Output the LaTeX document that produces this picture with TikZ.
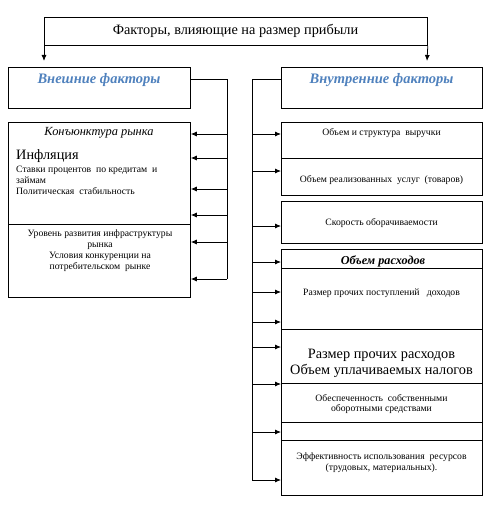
\documentclass[tikz,border=0pt]{standalone}
\usepackage{fontspec}
\setmainfont{Liberation Serif}
\usetikzlibrary{arrows.meta,positioning}
\definecolor{headblue}{RGB}{79,129,189}
\tikzset{
  box/.style={draw, line width=0.8pt, inner sep=0pt, anchor=north west},
  txt/.style={inner sep=0pt, align=center, font=\fontsize{9.7}{10.8}\selectfont},
  big/.style={font=\fontsize{14.3}{15.5}\selectfont},
  head/.style={inner sep=0pt, font=\fontsize{14.5}{16}\selectfont\bfseries\itshape, text=headblue},
  feed/.style={-{Latex[length=6pt,width=5pt]}, line width=0.8pt},
  bus/.style={line width=0.8pt}
}
\begin{document}
\begin{tikzpicture}[x=1pt,y=-1pt]
	\useasboundingbox (0,0) rectangle (496,508);
	% Boxes (top left corner, size)
	\node (top)   [box, minimum width=383pt, minimum height=28pt] at (44,17) {};
	\node (ext)   [box, minimum width=182pt, minimum height=41pt] at (8,67)  {};
	\node (int)   [box, minimum width=201pt, minimum height=41pt] at (281,67) {};
	\node (konj)  [box, minimum width=182pt, minimum height=102pt] at (8,122) {};
	\node (infra) [box, minimum width=182pt, minimum height=73pt] at (8,224) {};
	\node (rev)   [box, minimum width=201pt, minimum height=36pt] at (281,122) {};
	\node (sold)  [box, minimum width=201pt, minimum height=37pt] at (281,158) {};
	\node (speed) [box, minimum width=201pt, minimum height=42pt] at (281,201) {};
	\node (cost)  [box, minimum width=201pt, minimum height=19pt] at (281,249) {};
	\node (inc)   [box, minimum width=201pt, minimum height=61pt] at (281,268) {};
	\node (tax)   [box, minimum width=201pt, minimum height=54pt] at (281,329) {};
	\node (own)   [box, minimum width=201pt, minimum height=39pt] at (281,383) {};
	\node (blank) [box, minimum width=201pt, minimum height=18pt] at (281,422) {};
	\node (eff)   [box, minimum width=201pt, minimum height=55pt] at (281,440) {};

	% Texts
	\node (topT)  [txt, big] at (235.5,31) {Факторы, влияющие на размер прибыли};
	\node (extT)  [head] at (99,80) {Внешние факторы};
	\node (intT)  [head] at (381.5,80) {Внутренние факторы};
	\node (konjT) [txt, font=\fontsize{12.4}{14}\selectfont\itshape] at (99,133) {Конъюнктура рынка};
	\node (inflT) [txt, big, anchor=west] at (16,156) {Инфляция};
	\node (rateT) [txt, anchor=north west, align=left] at (16,166)
		{Ставки процентов~ по кредитам~ и\\займам\\Политическая~ стабильность};
	\node (infraT) [txt, anchor=north] at (100,230)
		{Уровень развития инфраструктуры\\рынка\\Условия конкуренции на\\потребительском~ рынке};
	\node (revT)  [txt] at (381.5,133) {Объем и структура~ выручки};
	\node (soldT) [txt] at (381.5,180) {Объем реализованных~ услуг~ (товаров)};
	\node (speedT)[txt] at (381.5,223) {Скорость оборачиваемости};
	\node (costT) [txt, font=\fontsize{12.2}{14}\selectfont\bfseries\itshape] at (383,261) {Объем расходов};
	\node (incT)  [txt] at (381.5,293) {Размер прочих поступлений~~ доходов};
	\node (taxT)  [txt, big] at (381.5,363.5) {Размер прочих расходов\\Объем уплачиваемых налогов};
	\node (ownT)  [txt] at (381.5,404) {Обеспеченность~ собственными\\оборотными средствами};
	\node (effT)  [txt] at (381.5,462.5) {Эффективность использования~ ресурсов\\(трудовых, материальных).};

	% Bus lines
	\coordinate (lb0) at (227,79);
	\coordinate (lb1) at (227,279);
	\coordinate (rb0) at (252,79);
	\coordinate (rb1) at (252,480);
	\coordinate (lt) at (44,61);
	\coordinate (rt) at (427,61);
	\draw[feed] (top.south west) -- (lt);
	\draw[feed] (top.south east) -- (rt);
	\draw[bus] (ext.east |- lb0) -- (lb0) -- (lb1);
	\draw[bus] (int.west |- rb0) -- (rb0) -- (rb1);

	% Arrows to the external factors
	\foreach \y in {134,158,189,215,242,279}
		\draw[feed] (lb0 |- 0,\y) -- (konj.east |- 0,\y);
	% Arrows to the internal factors
	\foreach \y in {134,171,226,262,292,322,347,384,432,480}
		\draw[feed] (rb0 |- 0,\y) -- (rev.west |- 0,\y);
\end{tikzpicture}
\end{document}
